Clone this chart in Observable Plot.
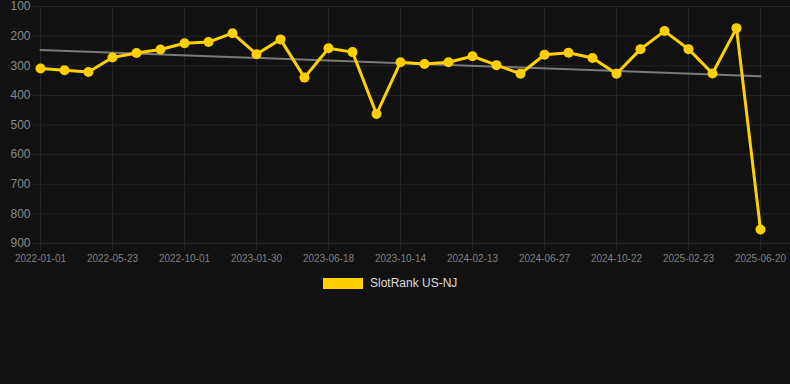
<!DOCTYPE html>
<html>
<head>
<meta charset="utf-8">
<script src="https://cdn.jsdelivr.net/npm/d3@7"></script>
<script src="https://cdn.jsdelivr.net/npm/@observablehq/plot@0.6"></script>
<style>
  html, body { margin: 0; padding: 0; background: #111111; }
  #wrap { position: relative; width: 790px; height: 384px; font-family: "Liberation Sans", Arial, Helvetica, sans-serif; }
  #legend { position: absolute; left: 323px; top: 278px; display: flex; align-items: center; }
  #legend .sw { width: 40px; height: 11px; background: #FFD000; }
  #legend span { margin-left: 7px; font-size: 12px; color: #dddddd; line-height: 11px; }
</style>
</head>
<body>
<div id="wrap">
  <div id="chart"></div>
  <div id="legend"><div class="sw"></div><span>SlotRank US-NJ</span></div>
</div>
<script>
// Rank values, one per period (index 0..30)
const ranks = [309, 315, 321, 272, 257, 245, 224, 220, 190, 261, 211, 340, 241, 254, 463, 288, 294, 288, 268, 298, 327, 263, 256, 274, 327, 244, 183, 244, 326, 173, 853];
// Tick labels shown every third period
const tickIndex = [0, 3, 6, 9, 12, 15, 18, 21, 24, 27, 30];
const tickLabels = ["2022-01-01", "2022-05-23", "2022-10-01", "2023-01-30", "2023-06-18", "2023-10-14", "2024-02-13", "2024-06-27", "2024-10-22", "2025-02-23", "2025-06-20"];
const yTicks = [100, 200, 300, 400, 500, 600, 700, 800, 900];

const data = ranks.map((r, i) => ({i, rank: r}));
const labelOf = new Map(tickIndex.map((t, k) => [t, tickLabels[k]]));

const gridColor = "#252525";
const yellow = "#FFD000";

const chart = Plot.plot({
  width: 790,
  height: 270,
  marginLeft: 40,
  marginRight: 0,
  marginTop: 6,
  marginBottom: 27,
  style: {background: "transparent", fontFamily: "'Liberation Sans', Arial, Helvetica, sans-serif"},
  x: {domain: [0, 31.25], ticks: tickIndex},
  y: {domain: [100, 900], reverse: true},
  marks: [
    Plot.gridY(yTicks, {stroke: gridColor, strokeOpacity: 1}),
    Plot.gridX(tickIndex, {stroke: gridColor, strokeOpacity: 1}),
    Plot.axisY(yTicks, {tickSize: 7, tickPadding: 3, stroke: gridColor, strokeOpacity: 1, fill: "#8a8a8a", fontSize: 12, label: null}),
    Plot.axisX(tickIndex, {tickSize: 7, tickPadding: 4, stroke: gridColor, strokeOpacity: 1, fill: "#808080", fontSize: 10, label: null, tickFormat: (d) => labelOf.get(d)}),
    Plot.ruleY([900], {stroke: "#2a2a2a"}),
    Plot.linearRegressionY(data, {x: "i", y: "rank", stroke: "#7a7a7a", strokeWidth: 2, ci: 0}),
    Plot.line(data, {x: "i", y: "rank", stroke: yellow, strokeWidth: 3, strokeLinejoin: "round"}),
    Plot.dot(data, {x: "i", y: "rank", r: 5, fill: yellow, stroke: null})
  ]
});
document.getElementById("chart").appendChild(chart);
</script>
</body>
</html>
